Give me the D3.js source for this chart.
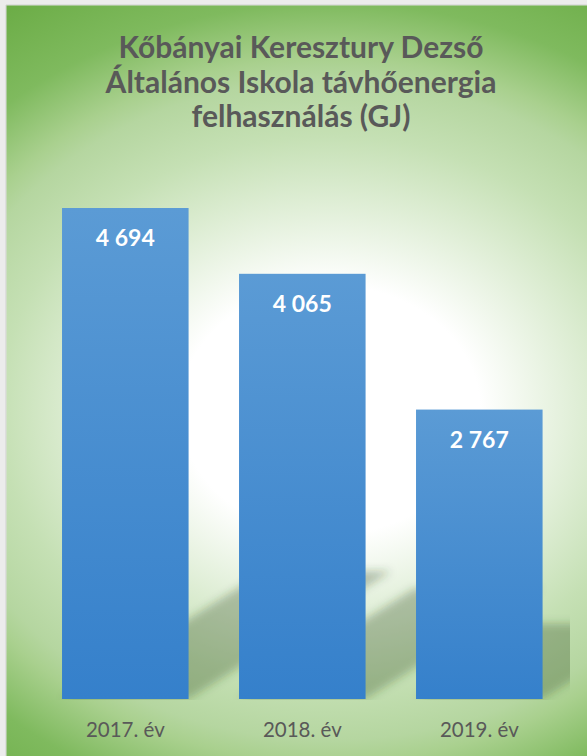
<!DOCTYPE html>
<html>
<head>
<meta charset="utf-8">
<script src="https://cdn.jsdelivr.net/npm/d3@7"></script>
<style>
  body { margin: 0; background: #ececec; }
  svg { display: block; }
</style>
</head>
<body>
<svg id="chart" width="587" height="756"></svg>
<script>
(function () {
    // data
    const years = ["2017. év", "2018. év", "2019. év"];
    const energy = [4694, 4065, 2767];
    const titleLines = ["Kőbányai Keresztury Dezső", "Általános Iskola távhőenergia", "felhasználás (GJ)"];

    const width = 587, height = 756;
    const svg = d3.select("#chart");
    const defs = svg.append("defs");

    // green radial background, white glow behind the bars
    const bg = defs.append("radialGradient").attr("id", "bg")
        .attr("gradientUnits", "userSpaceOnUse")
        .attr("cx", 330).attr("cy", 410).attr("r", 600)
        .attr("gradientTransform", "translate(330,410) scale(1,0.83) translate(-330,-410)");
    [[0, "#ffffff"], [0.25, "#ffffff"], [0.55, "#c5e0b4"], [0.663, "#b5d6a0"],
     [0.707, "#a9d08e"], [0.817, "#7fba5e"], [1, "#68aa42"]].forEach(s => {
        bg.append("stop").attr("offset", s[0]).attr("stop-color", s[1]);
    });

    // bar fill
    const barGrad = defs.append("linearGradient").attr("id", "barGrad")
        .attr("x1", 0).attr("y1", 0).attr("x2", 0).attr("y2", 1);
    barGrad.append("stop").attr("offset", "0").attr("stop-color", "#5b9bd5");
    barGrad.append("stop").attr("offset", "1").attr("stop-color", "#3580cb");

    const blur = defs.append("filter").attr("id", "blur")
        .attr("x", "-20%").attr("y", "-20%").attr("width", "140%").attr("height", "140%");
    blur.append("feGaussianBlur").attr("stdDeviation", 4);

    defs.append("clipPath").attr("id", "plotClip")
        .append("rect").attr("x", 6).attr("y", 6).attr("width", 564).attr("height", 694);

    svg.append("line").attr("x1", 6).attr("x2", 6).attr("y1", 5).attr("y2", height)
        .attr("stroke", "#d0d0d0");
    svg.append("line").attr("x1", 6).attr("x2", width).attr("y1", 5).attr("y2", 5)
        .attr("stroke", "#d0d0d0");
    svg.append("rect").attr("x", 6.5).attr("y", 5.5).attr("width", width - 6.5).attr("height", height - 5.5)
        .attr("fill", "url(#bg)");

    const x = d3.scaleBand().domain(years).range([36.8, 567.8])
        .paddingInner(0.285).paddingOuter(0.1425);
    const y = d3.scaleLinear().domain([0, 5000]).range([699, 176]);

    // perspective shadows (diagonal upper right)
    const slope = 0.63, shrink = 0.26;
    svg.append("g").attr("clip-path", "url(#plotClip)")
        .append("g").attr("filter", "url(#blur)")
        .selectAll("path")
        .data(energy)
        .join("path")
        .attr("d", (d, i) => {
            const x0 = x(years[i]), x1 = x0 + x.bandwidth();
            const yb = y(0), hs = (y(0) - y(d)) * shrink, dx = hs / slope;
            return `M${x0},${yb}L${x1},${yb}L${x1 + dx},${yb - hs}L${x0 + dx},${yb - hs}Z`;
        })
        .attr("fill", "#2f4a1c")
        .attr("fill-opacity", 0.3);

    svg.append("g")
        .selectAll("rect")
        .data(energy)
        .join("rect")
        .attr("x", (d, i) => x(years[i]))
        .attr("y", d => y(d))
        .attr("width", x.bandwidth())
        .attr("height", d => y(0) - y(d))
        .attr("fill", "url(#barGrad)");

    // value labels
    svg.append("g")
        .selectAll("text")
        .data(energy)
        .join("text")
        .attr("x", (d, i) => x(years[i]) + x.bandwidth() / 2)
        .attr("y", d => y(d) + 38)
        .attr("text-anchor", "middle")
        .attr("font-family", "Lato, sans-serif")
        .attr("font-weight", "bold")
        .attr("font-size", 23)
        .attr("fill", "#ffffff")
        .text(d => d3.format(",")(d).replace(",", " "));

    // x axis labels
    const xAxis = svg.append("g").attr("transform", "translate(0,699)")
        .call(d3.axisBottom(x).tickSize(0));
    xAxis.select(".domain").remove();
    xAxis.selectAll("text")
        .attr("y", 38)
        .attr("dy", 0)
        .attr("font-family", "Lato, sans-serif")
        .attr("font-size", 20.5)
        .attr("fill", "#595959");

    // title
    svg.append("g")
        .selectAll("text")
        .data(titleLines)
        .join("text")
        .attr("x", 301)
        .attr("y", (d, i) => 58 + i * 34.5)
        .attr("text-anchor", "middle")
        .attr("font-family", "Lato, sans-serif")
        .attr("font-weight", "bold")
        .attr("font-size", 30)
        .attr("fill", "#595959")
        .text(d => d);
})();
</script>
</body>
</html>
